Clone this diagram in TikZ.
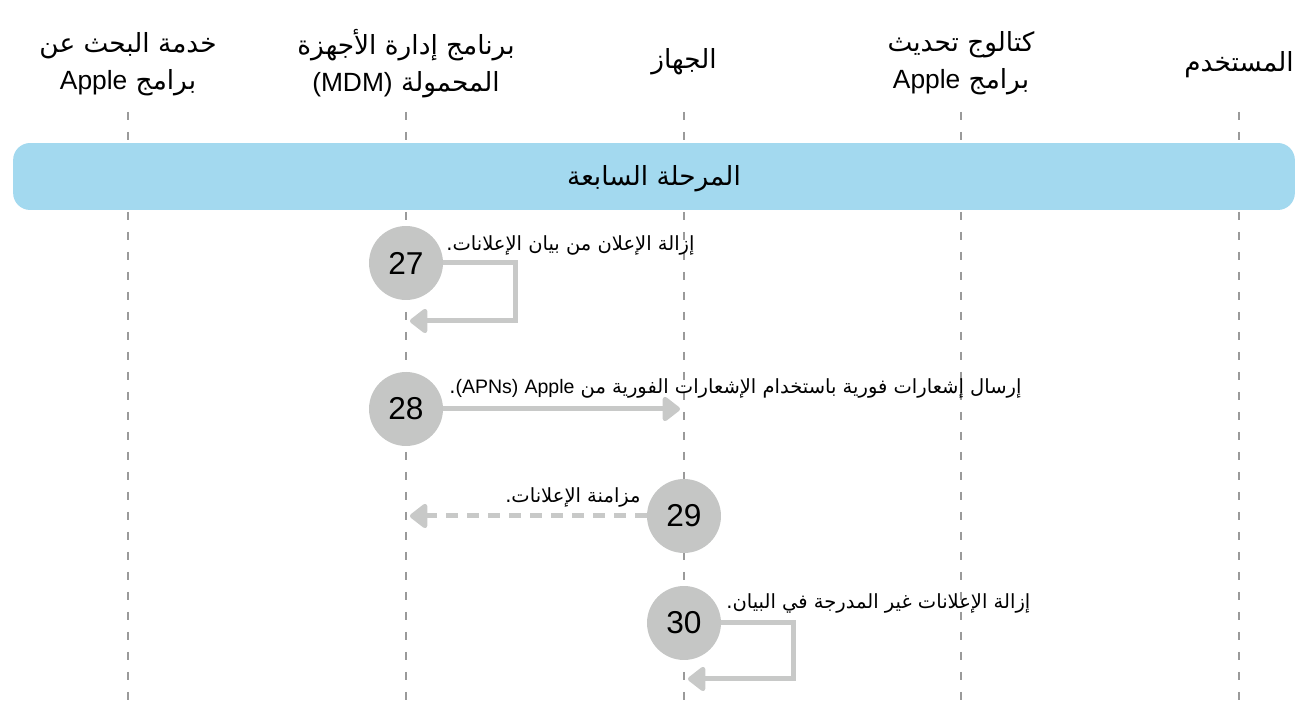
\documentclass[tikz,border=0pt]{standalone}
\usepackage{fontspec}
\setmainfont{Liberation Sans}
\newfontfamily\arabicfont[Script=Arabic]{DejaVu Sans}
\newfontfamily\latinfont{Liberation Sans}
\TeXXeTstate=1
\usepackage{tikz}
\usetikzlibrary{arrows.meta}
\definecolor{bandblue}{HTML}{A3D9EF}
\definecolor{stepgray}{HTML}{C5C6C5}
\definecolor{arrowgray}{HTML}{C8C9C8}
\definecolor{linegray}{HTML}{9A9A9A}
\newcommand{\artext}[1]{{\arabicfont\beginR #1\endR}}
\newcommand{\lat}[1]{\beginL{\latinfont #1}\endL}
\tikzset{ header/.style = {align=center, font=\fontsize{15}{21}\selectfont} }
\tikzset{ lifeline/.style = {linegray, line width=0.7pt, dash pattern=on 0.16cm off 0.24cm} }
\tikzset{ stepnum/.style = {circle, fill=stepgray, minimum size=1.48cm, inner sep=0pt, font=\fontsize{18}{18}\selectfont} }
\tikzset{ msg/.style = {arrowgray, line width=0.1cm, -{Triangle[round, length=0.38cm, width=0.56cm]}} }
\tikzset{ msglabel/.style = {inner sep=0pt, font=\fontsize{11.1}{14}\selectfont} }

\begin{document}
\begin{tikzpicture}[x=0.02cm, y=-0.02cm]
            \useasboundingbox (0,0) rectangle (1303,705);
            % lifelines
            \foreach \x in {128, 406, 684, 961, 1239}
                \draw[lifeline] (\x,112) -- (\x,700);
            \node[header] (a) at (128,64) {\artext{خدمة البحث عن}\\\artext{برامج \lat{Apple}}};
            \node[header] (b) at (406,64) {\artext{برنامج إدارة الأجهزة}\\\artext{المحمولة \lat{(MDM)}}};
            \node[header] (c) at (684,62) {\artext{الجهاز}};
            \node[header] (d) at (961,63) {\artext{كتالوج تحديث}\\\artext{برامج \lat{Apple}}};
            \node[header] (e) at (1239,65) {\artext{المستخدم}};
            % phase band
            \node[fill=bandblue, rounded corners=0.34cm, minimum width=25.64cm, minimum height=1.34cm] (phase) at (654,176.5) {};
            \node[font=\fontsize{15}{18}\selectfont] at (654,179) {\artext{المرحلة السابعة}};
            % steps
            \node[stepnum] (27) at (406,263) {27};
            \node[stepnum] (28) at (406,409) {28};
            \node[stepnum] (29) at (684,516) {29};
            \node[stepnum] (30) at (684,623) {30};
            \coordinate (e27) at (410,321);
            \coordinate (e28) at (680,409);
            \coordinate (e29) at (410,516);
            \coordinate (e30) at (688,679);
            \draw[msg] (27.east) -- ++(72,0) |- (e27);
            \draw[msg] (28.east) -- (e28);
            \draw[msg, dash pattern=on 0.24cm off 0.18cm] (29.west) -- (e29);
            \draw[msg] (30.east) -- ++(72,0) |- (e30);
            \node[msglabel, anchor=west] (l27) at (446,245) {\artext{إزالة الإعلان من بيان الإعلانات.}};
            \node[msglabel, anchor=west] (l28) at (449,388) {\artext{إرسال إشعارات فورية باستخدام الإشعارات الفورية من \lat{Apple} \lat{(APNs)}.}};
            \node[msglabel, anchor=east] (l29) at (641,497) {\artext{مزامنة الإعلانات.}};
            \node[msglabel, anchor=west] (l30) at (726,603) {\artext{إزالة الإعلانات غير المدرجة في البيان.}};
        \end{tikzpicture}
\end{document}
